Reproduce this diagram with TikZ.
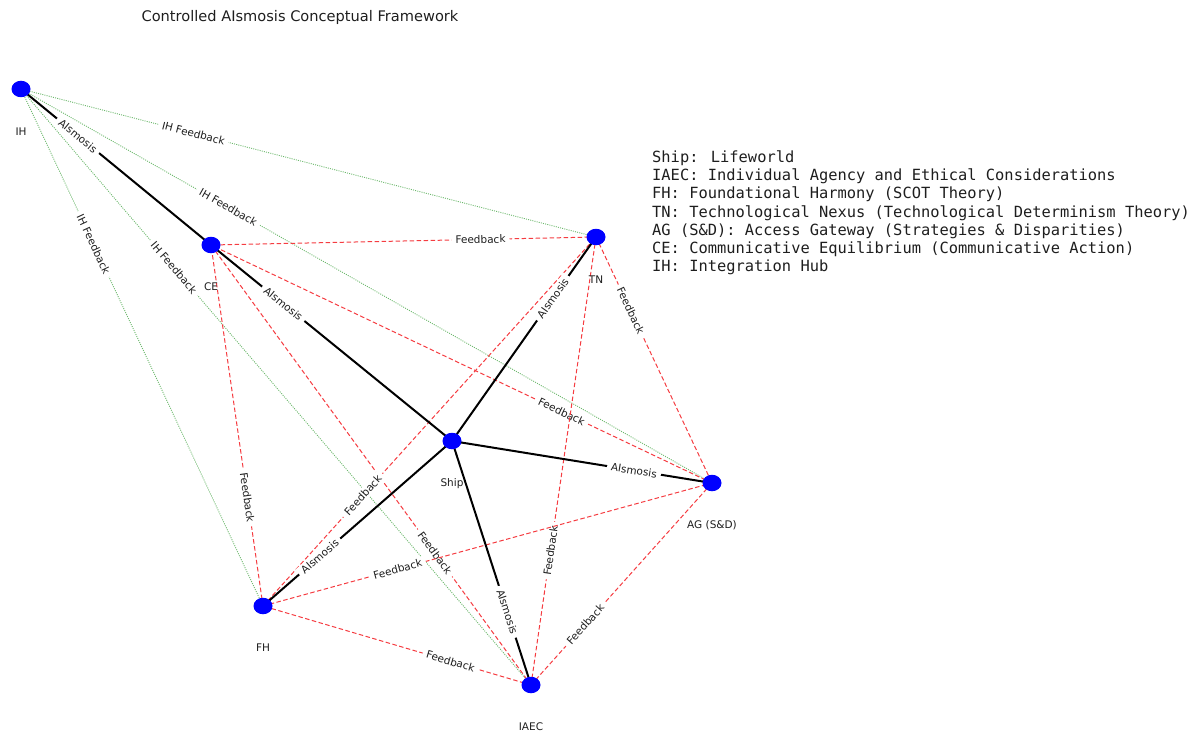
\documentclass[tikz,border=0pt]{standalone}
\usepackage{fontspec}
\setmainfont{DejaVu Sans}
\newfontfamily\legendfont{DejaVu Sans Mono}
\usetikzlibrary{shapes.geometric,backgrounds}
\definecolor{nodeblue}{RGB}{0,0,255}
\definecolor{fbred}{RGB}{245,60,65}
\definecolor{ihgreen}{RGB}{110,185,110}
\definecolor{txt}{RGB}{30,30,30}
\tikzset{
  vertex/.style={ellipse, fill=nodeblue, draw=none, minimum width=19pt, minimum height=16.5pt, inner sep=0pt},
  vlabel/.style={text=txt, font=\fontsize{10.5}{12}\selectfont, inner sep=0pt},
  osmosis/.style={draw=black, line width=2pt},
  feedback/.style={draw=fbred, line width=1pt, dash pattern=on 4.5pt off 2.5pt},
  ihfeedback/.style={draw=ihgreen, line width=0.9pt, dash pattern=on 1pt off 1.2pt},
  elabel/.style={pos=0.3, sloped, fill=white, text=txt, inner xsep=4pt, inner ysep=2pt,
    font=\fontsize{10.5}{12}\selectfont},
  legendline/.style={anchor=base west, inner sep=0pt, text=txt,
    font=\legendfont\fontsize{15.4}{18}\selectfont},
}
\begin{document}
\begin{tikzpicture}[x=1pt, y=-1pt]
\useasboundingbox (0,0) rectangle (1202,733);

% title
\node[anchor=base, inner sep=0pt, text=txt, font=\fontsize{14.6}{17}\selectfont] (title) at (300,22) {Controlled AIsmosis Conceptual Framework};

% vertices
\node[vertex] (IH) at (21,89) {};
\node[vertex] (CE) at (211,245) {};
\node[vertex] (TN) at (596,237) {};
\node[vertex] (Ship) at (452,441) {};
\node[vertex] (AG) at (712,483) {};
\node[vertex] (FH) at (263,606) {};
\node[vertex] (IAEC) at (531,685) {};

\begin{pgfonlayer}{background}
% integration hub feedback (green, dotted)
\draw[ihfeedback] (IH.center) -- node[elabel] (l1) {IH Feedback} (TN.center);
\draw[ihfeedback] (IH.center) -- node[elabel] (l2) {IH Feedback} (AG.center);
\draw[ihfeedback] (IH.center) -- node[elabel] (l3) {IH Feedback} (FH.center);
\draw[ihfeedback] (IH.center) -- node[elabel] (l4) {IH Feedback} (IAEC.center);

% feedback links (red, dashed)
\draw[feedback] (TN.center) -- node[elabel] (f1) {Feedback} (CE.center);
\draw[feedback] (TN.center) -- node[elabel] (f2) {Feedback} (AG.center);
\draw[feedback] (AG.center) -- node[elabel] (f3) {Feedback} (CE.center);
\draw[feedback] (FH.center) -- node[elabel] (f4) {Feedback} (CE.center);
\draw[feedback] (IAEC.center) -- node[elabel] (f5) {Feedback} (CE.center);
\draw[feedback] (FH.center) -- node[elabel] (f6) {Feedback} (TN.center);
\draw[feedback] (IAEC.center) -- node[elabel] (f7) {Feedback} (TN.center);
\draw[feedback] (FH.center) -- node[elabel] (f8) {Feedback} (AG.center);
\draw[feedback] (IAEC.center) -- node[elabel] (f9) {Feedback} (AG.center);
\draw[feedback] (IAEC.center) -- node[elabel] (f10) {Feedback} (FH.center);

% AIsmosis links (black)
\draw[osmosis] (IH.center) -- node[elabel] (a1) {AIsmosis} (CE.center);
\draw[osmosis] (CE.center) -- node[elabel] (a2) {AIsmosis} (Ship.center);
\draw[osmosis] (TN.center) -- node[elabel] (a3) {AIsmosis} (Ship.center);
\draw[osmosis] (AG.center) -- node[elabel] (a4) {AIsmosis} (Ship.center);
\draw[osmosis] (IAEC.center) -- node[elabel] (a5) {AIsmosis} (Ship.center);
\draw[osmosis] (FH.center) -- node[elabel] (a6) {AIsmosis} (Ship.center);
\end{pgfonlayer}

% vertex labels
\node[vlabel] (tIH) at ([yshift=-43pt]IH.center) {IH};
\node[vlabel] (tCE) at ([yshift=-42pt]CE.center) {CE};
\node[vlabel] (tTN) at ([yshift=-43pt]TN.center) {TN};
\node[vlabel] (tShip) at ([yshift=-43pt]Ship.center) {Ship};
\node[vlabel] (tAG) at ([yshift=-42pt]AG.center) {AG (S\&D)};
\node[vlabel] (tFH) at ([yshift=-42pt]FH.center) {FH};
\node[vlabel] (tIAEC) at ([yshift=-42pt]IAEC.center) {IAEC};

% legend
\node[legendline] (k1) at (652,162.5) {Ship: Lifeworld};
\node[legendline] (k2) at (652,180.7) {IAEC: Individual Agency and Ethical Considerations};
\node[legendline] (k3) at (652,198.9) {FH: Foundational Harmony (SCOT Theory)};
\node[legendline] (k4) at (652,217.1) {TN: Technological Nexus (Technological Determinism Theory)};
\node[legendline] (k5) at (652,235.3) {AG (S\&D): Access Gateway (Strategies \& Disparities)};
\node[legendline] (k6) at (652,253.5) {CE: Communicative Equilibrium (Communicative Action)};
\node[legendline] (k7) at (652,271.7) {IH: Integration Hub};
\end{tikzpicture}
\end{document}
